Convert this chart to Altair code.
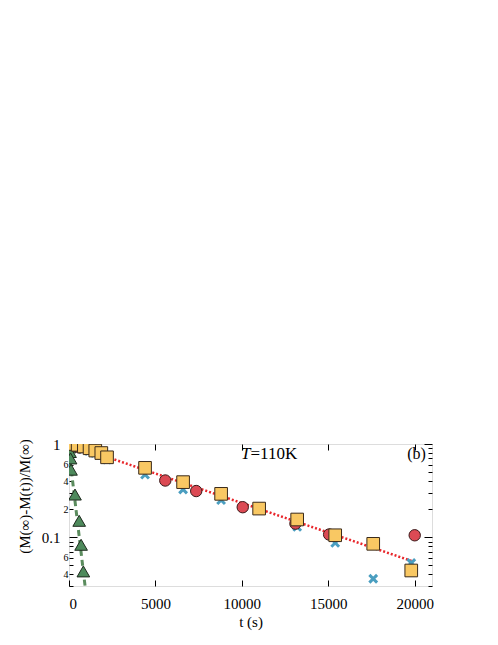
import altair as alt
import pandas as pd

FONT = "Liberation Serif"

# ---------------- data ----------------
sq_t = [120, 500, 860, 1190, 1520, 1870, 2200, 4400, 6600, 8800, 11000, 13200, 15400, 17600, 19800]
sq_y = [1.0, 0.98, 0.94, 0.90, 0.85, 0.80, 0.72, 0.555, 0.39, 0.292, 0.203, 0.155, 0.105, 0.085, 0.044]

ci_t = [0, 300, 600, 5570, 7360, 10050, 13100, 15050, 20000]
ci_y = [1.0, 0.96, 0.92, 0.406, 0.313, 0.21, 0.14, 0.107, 0.105]

cr_t = [100, 450, 800, 1150, 1500, 1850, 2200, 4400, 6600, 8800, 13200, 15400, 17600, 19800]
cr_y = [0.97, 0.93, 0.88, 0.84, 0.80, 0.76, 0.68, 0.47, 0.325, 0.25, 0.129, 0.087, 0.0359, 0.053]

tr_t = [0, 30, 60, 90, 116, 347, 590, 700, 830]
tr_y = [1.0, 0.92, 0.82, 0.70, 0.53, 0.287, 0.15, 0.083, 0.043]

fit_red_t = [0, 19900]
fit_red_y = [1.0, 0.055]
fit_green_t = [0, 930]
fit_green_y = [0.85, 0.03]

x_ticks = [0, 5000, 10000, 15000, 20000]
y_major = [0.1, 1.0]
y_minor = [0.03, 0.04, 0.05, 0.06, 0.07, 0.08, 0.09,
           0.2, 0.3, 0.4, 0.5, 0.6, 0.7, 0.8, 0.9]
y_minor_labeled = [0.04, 0.06, 0.2, 0.4, 0.6]

# annotations
ann_text = ["T", "=110K", "(b)"]
ann_t = [9950, 10500, 20650]
ann_y = [0.78, 0.78, 0.78]

# ---------------- scales ----------------
xs = alt.Scale(domain=[0, 21000], nice=False, zero=False)
ys = alt.Scale(type="log", domain=[0.03, 1.0], nice=False)

def df(t, y):
    return pd.DataFrame({"t": t, "y": y})

ax_x_bottom = alt.Axis(values=x_ticks, orient="bottom", offset=-6, tickSize=6,
                       domain=False, labelPadding=10, labelFontSize=15, labelFont=FONT,
                       format="d",
                       title="t (s)", titleFont=FONT, titleFontSize=15,
                       titleFontWeight="normal", titlePadding=3, grid=False,
                       tickColor="black", labelColor="black", titleColor="black")
ax_x_top = alt.Axis(values=x_ticks, orient="top", offset=-6, tickSize=6, domain=False,
                    labels=False, title=None, grid=False, tickColor="black")
ax_y_left_major = alt.Axis(values=y_major, orient="left", offset=-8, tickSize=8,
                           domain=False, labelPadding=9, labelFontSize=15, labelFont=FONT,
                           labelExpr="datum.value == 1 ? '1' : '0.1'",
                           labelOverlap=False, grid=False, tickColor="black",
                           labelColor="black",
                           title="(M(∞)-M(t))/M(∞)", titleFont=FONT, titleFontSize=15,
                           titleFontWeight="normal", titleColor="black",
                           titleX=-53, titleY=52, titleAngle=-90, titleBaseline="middle")
ax_y_right_major = alt.Axis(values=y_major, orient="right", offset=-8, tickSize=8,
                            domain=False, labels=False, title=None, grid=False,
                            tickColor="black")
ax_y_left_minor = alt.Axis(values=y_minor, orient="left", offset=-4, tickSize=4,
                           domain=False, labelPadding=1, labelFontSize=10, labelFont=FONT,
                           labelExpr="indexof(" + str(y_minor_labeled) + ", datum.value) >= 0 ? (datum.value < 0.1 ? '' + round(datum.value*100) : '' + round(datum.value*10)) : ''",
                           labelOverlap=False, grid=False, tickColor="black",
                           labelColor="black", title=None)
ax_y_right_minor = alt.Axis(values=y_minor, orient="right", offset=-4, tickSize=4,
                            domain=False, labels=False, title=None, grid=False,
                            tickColor="black")

red_line = alt.Chart(df(fit_red_t, fit_red_y)).mark_line(
    color="#E8262B", strokeDash=[2, 2], strokeWidth=2.5, clip=True
).encode(
    x=alt.X("t:Q", scale=xs, axis=ax_x_bottom),
    y=alt.Y("y:Q", scale=ys, axis=ax_y_left_major),
)

green_line = alt.Chart(df(fit_green_t, fit_green_y)).mark_line(
    color="#5B8C5E", strokeDash=[6, 4], strokeWidth=3, clip=True
).encode(
    x=alt.X("t:Q", scale=xs, axis=ax_x_top),
    y=alt.Y("y:Q", scale=ys, axis=ax_y_right_major),
)

triangles = alt.Chart(df(tr_t, tr_y)).mark_point(
    shape="triangle-up", filled=True, fill="#4E8A5C", stroke="#1E2A1E",
    strokeWidth=1, size=160, opacity=1, clip=True
).encode(
    x=alt.X("t:Q", scale=xs, axis=None),
    y=alt.Y("y:Q", scale=ys, axis=ax_y_left_minor),
)

crosses = alt.Chart(df(cr_t, cr_y)).mark_point(
    shape="M-1,-1L1,1M-1,1L1,-1", filled=False, stroke="#4A9EC0",
    strokeWidth=3, size=60, opacity=1, clip=True
).encode(
    x=alt.X("t:Q", scale=xs, axis=None),
    y=alt.Y("y:Q", scale=ys, axis=ax_y_right_minor),
)

circles = alt.Chart(df(ci_t, ci_y)).mark_circle(
    size=130, fill="#DC4A54", stroke="#3A1A1A", strokeWidth=1, opacity=1, clip=True
).encode(
    x=alt.X("t:Q", scale=xs, axis=None),
    y=alt.Y("y:Q", scale=ys, axis=None),
)

squares = alt.Chart(df(sq_t, sq_y)).mark_square(
    size=160, fill="#F9C863", stroke="#3A2A1A", strokeWidth=1, opacity=1, clip=True
).encode(
    x=alt.X("t:Q", scale=xs, axis=None),
    y=alt.Y("y:Q", scale=ys, axis=None),
)

ann_df = pd.DataFrame({"text": ann_text, "t": ann_t, "y": ann_y})
ann_base = alt.Chart(ann_df)
enc = dict(x=alt.X("t:Q", scale=xs, axis=None), y=alt.Y("y:Q", scale=ys, axis=None),
           text="text:N")
label_T = ann_base.transform_filter("datum.text == 'T'").mark_text(
    font=FONT, fontSize=17, fontStyle="italic", align="left", baseline="middle",
    color="black").encode(**enc)
label_rest = ann_base.transform_filter("datum.text == '=110K'").mark_text(
    font=FONT, fontSize=17, align="left", baseline="middle", color="black").encode(**enc)
label_b = ann_base.transform_filter("datum.text == '(b)'").mark_text(
    font=FONT, fontSize=16, align="right", baseline="middle", color="black").encode(**enc)

chart = alt.layer(
    red_line, green_line, triangles, crosses, circles, squares,
    label_T, label_rest, label_b
).resolve_axis(
    x="independent", y="independent"
).properties(
    width=363, height=142,
    padding={"top": 429, "left": 8, "right": 5, "bottom": 5},
).configure_view(
    stroke="black", strokeWidth=1
).configure(
    font=FONT
)

chart.save("out.html", embed_options={"renderer": "svg", "actions": False})
